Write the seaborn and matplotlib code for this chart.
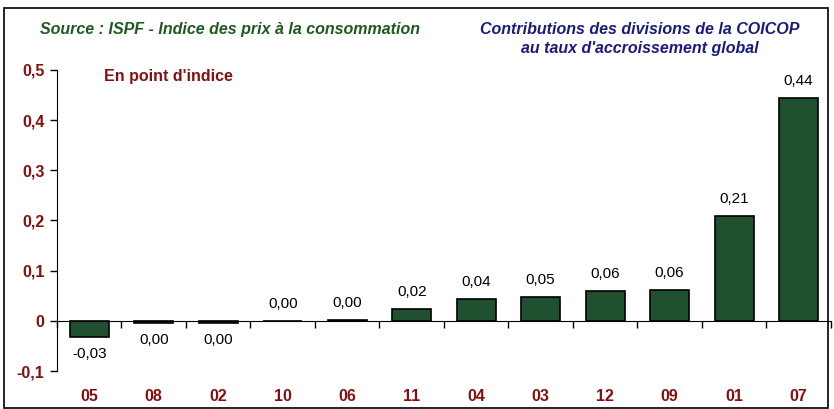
import numpy as np
import pandas as pd
import matplotlib
matplotlib.use("Agg")
import matplotlib.pyplot as plt
import seaborn as sns
from matplotlib.patches import Rectangle

# Donnees
divisions = ["05", "08", "02", "10", "06", "11", "04", "03", "12", "09", "01", "07"]
contributions = [-0.032, -0.0045, -0.004, 0.0005, 0.002, 0.024, 0.0445, 0.048, 0.060, 0.062, 0.209, 0.444]
y_ticks = [-0.1, 0, 0.1, 0.2, 0.3, 0.4, 0.5]
y_tick_labels = ["-0,1", "0", "0,1", "0,2", "0,3", "0,4", "0,5"]

df = pd.DataFrame({"division": divisions, "contribution": contributions})

sns.set_style("white")
plt.rcParams["font.family"] = ["Liberation Sans Narrow", "Liberation Sans", "DejaVu Sans"]

rouge = "#861010"
vert = "#1f5030"

fig = plt.figure(figsize=(8.34, 4.09), dpi=100)
ax = fig.add_axes([0.0683, 0.0929, 0.928, 0.736])

sns.barplot(data=df, x="division", y="contribution", color=vert,
            edgecolor="black", linewidth=1.2, width=0.6, saturation=1, ax=ax)

# etiquettes des barres
labels = [f"{v:.2f}".replace(".", ",").replace("-0,00", "0,00") for v in contributions]
ax.bar_label(ax.containers[0], labels=labels, padding=7, fontsize=11, color="black")

ax.set_ylim(-0.1, 0.5)
ax.set_xlim(-0.5, len(divisions) - 0.5)
ax.set_yticks(y_ticks, y_tick_labels)
ax.tick_params(axis="y", direction="out", length=5, width=1, color="black",
               labelcolor=rouge, labelsize=11.5, left=True, pad=4)
for t in ax.get_yticklabels():
    t.set_fontweight("bold")

# axe des x sur le zero
ax.spines["bottom"].set_position(("data", 0))
ax.spines["top"].set_visible(False)
ax.spines["right"].set_visible(False)
ax.spines["left"].set_color("black")
ax.spines["bottom"].set_color("black")
ax.set_xticks(np.arange(len(divisions) + 1) - 0.5, minor=True)
ax.tick_params(axis="x", which="minor", direction="out", length=5, width=1, color="black", bottom=True)
ax.tick_params(axis="x", which="major", length=0, pad=49, labelcolor=rouge, labelsize=11.5)
for t in ax.get_xticklabels():
    t.set_fontweight("bold")
ax.set_xlabel("")
ax.set_ylabel("")

# textes
fig.text(0.048, 0.928, "Source : ISPF - Indice des prix à la consommation", color="#1e5a1e",
         fontsize=11.5, fontweight="bold", fontstyle="italic", ha="left", va="center")
fig.text(0.767, 0.905, "Contributions des divisions de la COICOP\nau taux d'accroissement global",
         color="#1a1a80", fontsize=11.5, fontweight="bold", fontstyle="italic",
         ha="center", va="center", linespacing=1.35)
fig.text(0.125, 0.814, "En point d'indice", color=rouge, fontsize=11.5, fontweight="bold",
         ha="left", va="center")

# cadre
fig.patches.append(Rectangle((0.005, 0.002), 0.988, 0.978, transform=fig.transFigure,
                             fill=False, edgecolor="black", linewidth=1.2))

fig.savefig("out.png", dpi=100)
